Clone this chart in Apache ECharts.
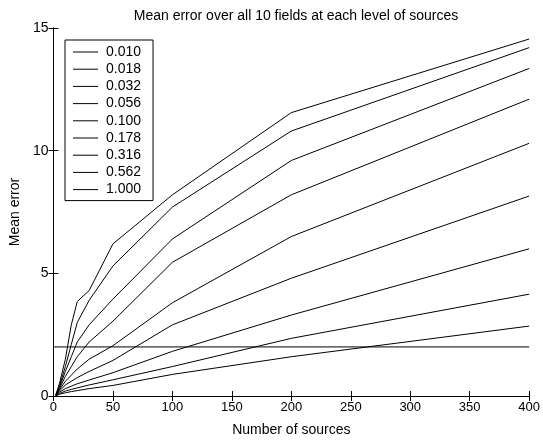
<!DOCTYPE html>
<html>
<head>
<meta charset="utf-8">
<script src="https://cdn.jsdelivr.net/npm/echarts@6/dist/echarts.min.js"></script>
<style>
html,body{margin:0;padding:0;background:#fff;}
#chart{width:543px;height:442px;}
</style>
</head>
<body>
<div id="chart"></div>
<script>
var xValues = [2, 5, 10, 15, 20, 30, 50, 100, 200, 400];
var seriesNames = ['0.010', '0.018', '0.032', '0.056', '0.100', '0.178', '0.316', '0.562', '1.000'];
var s0010 = [0.05, 0.5, 1.5, 2.9, 3.85, 4.3, 6.2, 8.2, 11.55, 14.55];
var s0018 = [0.05, 0.4, 1.2, 2.1, 3.0, 3.9, 5.3, 7.7, 10.8, 14.2];
var s0032 = [0.04, 0.35, 1.0, 1.6, 2.2, 2.9, 3.95, 6.4, 9.6, 13.35];
var s0056 = [0.03, 0.3, 0.8, 1.2, 1.6, 2.2, 3.05, 5.45, 8.2, 12.1];
var s0100 = [0.03, 0.25, 0.6, 0.85, 1.1, 1.5, 2.05, 3.8, 6.5, 10.3];
var s0178 = [0.02, 0.2, 0.45, 0.6, 0.75, 1.0, 1.45, 2.9, 4.8, 8.15];
var s0316 = [0.02, 0.15, 0.3, 0.4, 0.5, 0.65, 0.95, 1.82, 3.3, 6.0];
var s0562 = [0.01, 0.1, 0.2, 0.27, 0.33, 0.45, 0.66, 1.2, 2.35, 4.15];
var s1000 = [0.01, 0.07, 0.13, 0.18, 0.22, 0.3, 0.43, 0.88, 1.6, 2.85];
var thresholdX = [0, 400];
var thresholdY = [2, 2];
var xTicks = [0, 50, 100, 150, 200, 250, 300, 350, 400];
var yTicks = [0, 5, 10, 15];

var allSeries = [s0010, s0018, s0032, s0056, s0100, s0178, s0316, s0562, s1000];
var FONT = "'Liberation Sans', Arial, sans-serif";

function pairs(xs, ys) { return xs.map(function (x, i) { return [x, ys[i]]; }); }

var series = allSeries.map(function (arr, i) {
  return {
    name: seriesNames[i], type: 'line', data: pairs(xValues, arr),
    symbol: 'none', lineStyle: { color: '#000', width: 1 }, itemStyle: { color: '#000' },
    silent: true, animation: false, z: 3
  };
});
series.push({
  name: 'threshold', type: 'line', data: pairs(thresholdX, thresholdY),
  symbol: 'none', lineStyle: { color: '#000', width: 1 }, silent: true, animation: false
});

var axisCommon = {
  type: 'value', min: 0,
  axisLine: { show: true, lineStyle: { color: '#000', width: 1 } },
  axisTick: { show: true, inside: true, length: 5, lineStyle: { color: '#000' } },
  splitLine: { show: false }
};

var chart = echarts.init(document.getElementById('chart'), null, { renderer: 'canvas' });
chart.setOption({
  backgroundColor: '#fff',
  animation: false,
  title: {
    text: 'Mean error over all 10 fields at each level of sources',
    left: 291, top: 4, textAlign: 'center',
    textStyle: { fontFamily: FONT, fontSize: 14, fontWeight: 'normal', color: '#000' }
  },
  grid: { left: 49, right: 10, top: 28, bottom: 44 },
  legend: {
    data: seriesNames, orient: 'vertical', left: 65, top: 40,
    icon: 'rect', itemWidth: 25, itemHeight: 1, itemGap: 3.2,
    padding: [5, 12, 4, 8],
    backgroundColor: '#fff', borderColor: '#000', borderWidth: 1,
    textStyle: { fontFamily: FONT, fontSize: 14, lineHeight: 14, color: '#000', padding: [0, 0, 0, 3] },
    selectedMode: false
  },
  xAxis: [
    Object.assign({}, axisCommon, {
      max: 400, interval: 50, position: 'bottom',
      name: 'Number of sources', nameLocation: 'middle', nameGap: 27,
      nameTextStyle: { fontFamily: FONT, fontSize: 14, color: '#000' },
      axisLabel: { fontFamily: FONT, fontSize: 13, color: '#000', margin: 5 }
    }),
    Object.assign({}, axisCommon, {
      max: 400, interval: 50, position: 'top', axisLabel: { show: false }
    })
  ],
  yAxis: [
    Object.assign({}, axisCommon, {
      max: 15, interval: 5, position: 'left',
      name: 'Mean error', nameLocation: 'middle', nameGap: 28,
      nameTextStyle: { fontFamily: FONT, fontSize: 14, color: '#000' },
      axisLabel: { fontFamily: FONT, fontSize: 14, color: '#000', margin: 5 }
    }),
    Object.assign({}, axisCommon, {
      max: 15, interval: 5, position: 'right', axisLabel: { show: false }
    })
  ],
  series: series
});
</script>
</body>
</html>
